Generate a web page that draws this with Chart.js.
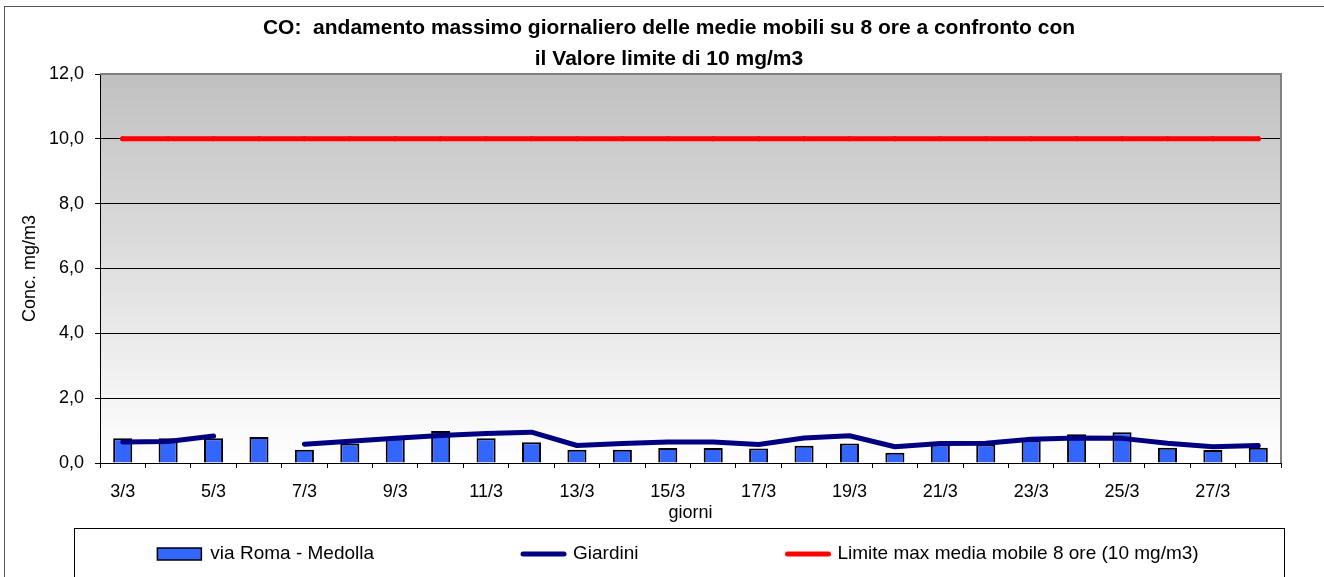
<!DOCTYPE html>
<html>
<head>
<meta charset="utf-8">
<script src="https://cdn.jsdelivr.net/npm/chart.js@4.4.1/dist/chart.umd.min.js"></script>
<style>
  html, body { margin: 0; padding: 0; background: #fff; }
  #wrap { width: 1324px; height: 577px; position: relative; }
</style>
</head>
<body>
<div id="wrap"><canvas id="co-chart"></canvas></div>
<script>
// Days of March
const days = ['3/3', '4/3', '5/3', '6/3', '7/3', '8/3', '9/3', '10/3', '11/3', '12/3', '13/3', '14/3', '15/3',
    '16/3', '17/3', '18/3', '19/3', '20/3', '21/3', '22/3', '23/3', '24/3', '25/3', '26/3', '27/3', '28/3'];

// via Roma - Medolla (bars)
const viaRoma = [0.76, 0.76, 0.76, 0.80, 0.41, 0.60, 0.78, 0.99, 0.76, 0.64, 0.41, 0.41, 0.46,
    0.46, 0.45, 0.53, 0.60, 0.32, 0.57, 0.57, 0.71, 0.89, 0.95, 0.47, 0.40, 0.47];

// Giardini (line) - no value on 6/3
const giardini = [0.65, 0.66, 0.83, null, 0.58, 0.67, 0.76, 0.85, 0.91, 0.95, 0.54, 0.60, 0.65,
    0.65, 0.57, 0.77, 0.84, 0.50, 0.60, 0.61, 0.73, 0.77, 0.76, 0.61, 0.50, 0.54];

// Limit value, 10 mg/m3 every day
const limite = [10, 10, 10, 10, 10, 10, 10, 10, 10, 10, 10, 10, 10,
    10, 10, 10, 10, 10, 10, 10, 10, 10, 10, 10, 10, 10];

const yTicks = [0, 2, 4, 6, 8, 10, 12];

const titleLines = ['CO:  andamento massimo giornaliero delle medie mobili su 8 ore a confronto con',
    'il Valore limite di 10 mg/m3'];

const FONT = 'Arial, "Liberation Sans", sans-serif';
Chart.defaults.font.family = FONT;
Chart.defaults.color = '#000';

// plot background gradient, grey frame, outer border, title
const backdrop = {
    id: 'backdrop',
    beforeDraw(chart) {
        const { ctx, chartArea: a } = chart;
        ctx.save();
        ctx.fillStyle = '#fff';
        ctx.fillRect(0, 0, chart.width, chart.height);
        const g = ctx.createLinearGradient(0, a.top, 0, a.bottom);
        g.addColorStop(0, '#c0c0c0');
        g.addColorStop(1, '#ffffff');
        ctx.fillStyle = g;
        ctx.fillRect(a.left, a.top, a.right - a.left, a.bottom - a.top);
        ctx.strokeStyle = '#555';
        ctx.lineWidth = 1;
        ctx.strokeRect(4.5, 6.5, chart.width + 20, chart.height + 20);

        // title, centred a bit right of the canvas middle like the original
        ctx.fillStyle = '#000';
        ctx.font = 'bold 21px ' + FONT;
        ctx.textAlign = 'center';
        ctx.textBaseline = 'middle';
        titleLines.forEach((t, i) => ctx.fillText(t, 669, 28 + i * 31));
        ctx.restore();
    },
    beforeDatasetsDraw(chart) {
        const { ctx, chartArea: a } = chart;
        ctx.save();
        ctx.strokeStyle = '#808080';
        ctx.lineWidth = 2;
        ctx.beginPath();
        ctx.moveTo(a.left, a.top);
        ctx.lineTo(a.right, a.top);
        ctx.lineTo(a.right, a.bottom);
        ctx.stroke();
        ctx.restore();
    }
};

// legend inside a bordered box under the axis
const boxLegend = {
    id: 'boxLegend',
    afterDraw(chart) {
        const ctx = chart.ctx;
        const a = chart.chartArea;
        ctx.save();
        ctx.strokeStyle = '#000';
        ctx.lineWidth = 1;
        ctx.strokeRect(74.5, 528.5, a.right - 74 + 3, 80);

        ctx.font = '19px ' + FONT;
        const swatch = 46, gap = 7, spacing = 146;
        const items = chart.data.datasets.map(ds => ({ ds, w: ctx.measureText(ds.label).width }));
        const total = items.reduce((s, it) => s + swatch + gap + it.w, 0) + spacing * (items.length - 1);
        let x = 678 - total / 2;
        const y = 554;
        ctx.textBaseline = 'middle';
        ctx.textAlign = 'left';
        items.forEach(({ ds, w }) => {
            if (ds.type === 'line') {
                ctx.strokeStyle = ds.borderColor;
                ctx.lineWidth = ds.borderWidth;
                ctx.lineCap = 'round';
                ctx.beginPath();
                ctx.moveTo(x + 3, y);
                ctx.lineTo(x + swatch - 2, y);
                ctx.stroke();
            } else {
                ctx.fillStyle = ds.backgroundColor;
                ctx.fillRect(x, y - 6, swatch - 2, 12);
                ctx.strokeStyle = '#000';
                ctx.lineWidth = 1.5;
                ctx.strokeRect(x, y - 6, swatch - 2, 12);
            }
            ctx.fillStyle = '#000';
            ctx.fillText(ds.label, x + swatch + gap, y);
            x += swatch + gap + w + spacing;
        });
        ctx.restore();
    }
};

new Chart(document.getElementById('co-chart'), {
    type: 'bar',
    data: {
        labels: days,
        datasets: [
            {
                type: 'bar',
                label: 'via Roma - Medolla',
                data: viaRoma,
                backgroundColor: '#3366ff',
                borderColor: '#000',
                borderWidth: 2,
                barPercentage: 0.42,
                categoryPercentage: 1,
                order: 3
            },
            {
                type: 'line',
                label: 'Giardini',
                data: giardini,
                borderColor: '#000080',
                borderWidth: 5,
                borderCapStyle: 'round',
                borderJoinStyle: 'round',
                pointRadius: 0,
                tension: 0,
                spanGaps: false,
                order: 2
            },
            {
                type: 'line',
                label: 'Limite max media mobile 8 ore (10 mg/m3)',
                data: limite,
                borderColor: '#ff0000',
                backgroundColor: '#ff0000',
                borderWidth: 5,
                borderCapStyle: 'round',
                pointRadius: 2.5,
                pointBorderWidth: 0,
                tension: 0,
                order: 1
            }
        ]
    },
    options: {
        responsive: true,
        maintainAspectRatio: false,
        animation: false,
        devicePixelRatio: 1,
        layout: { padding: { left: 0, right: 43, top: 74, bottom: 53 } },
        plugins: {
            legend: { display: false },
            tooltip: { enabled: false },
            title: { display: false }
        },
        scales: {
            x: {
                offset: true,
                grid: { offset: true, drawOnChartArea: false, color: '#000', tickLength: 5 },
                border: { color: '#000', width: 1 },
                ticks: {
                    autoSkip: false,
                    maxRotation: 0,
                    padding: 13,
                    font: { size: 18 },
                    callback: function (value, index) {
                        return index % 2 === 0 ? this.getLabelForValue(value) : '';
                    }
                },
                title: { display: true, text: 'giorni', font: { size: 18 }, padding: { top: 0, bottom: 0 } },
                afterFit: s => { s.height = 61; }
            },
            y: {
                min: 0,
                max: 12,
                afterBuildTicks: s => { s.ticks = yTicks.map(v => ({ value: v })); },
                grid: { color: '#000', lineWidth: 1, tickLength: 5 },
                border: { color: '#000', width: 1 },
                ticks: {
                    padding: 11,
                    font: { size: 18 },
                    callback: v => v.toFixed(1).replace('.', ',')
                },
                title: { display: true, text: 'Conc. mg/m3', font: { size: 18 }, padding: { top: 19, bottom: 0 } },
                afterFit: s => { s.width = 100; }
            }
        }
    },
    plugins: [backdrop, boxLegend]
});
</script>
</body>
</html>
